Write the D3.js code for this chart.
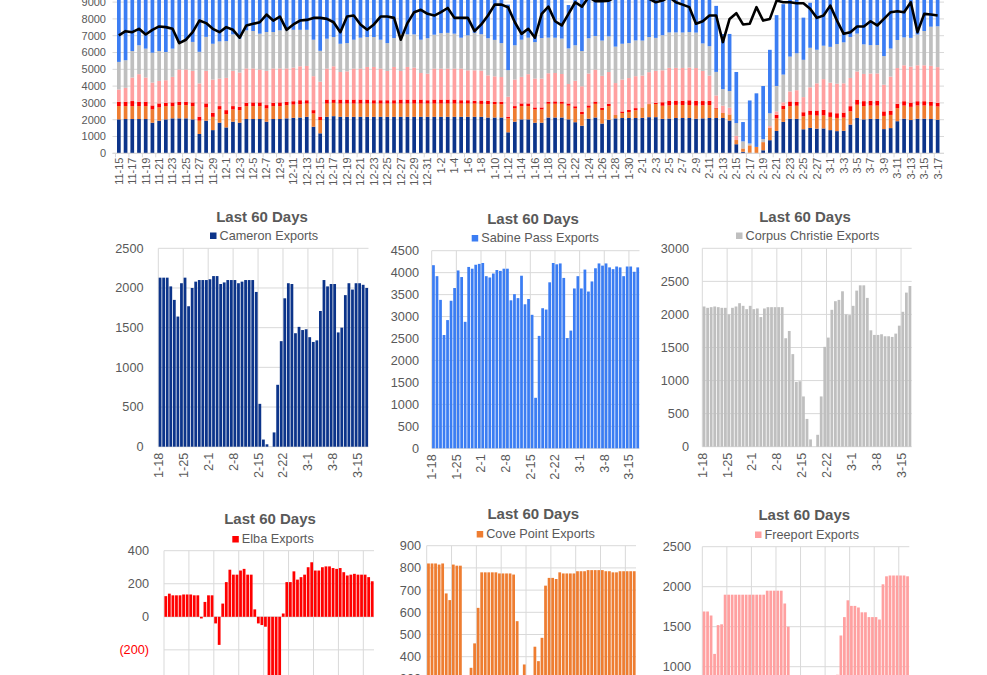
<!DOCTYPE html>
<html><head><meta charset="utf-8">
<script src="https://cdn.jsdelivr.net/npm/d3@7"></script>
<style>
body{margin:0;background:#fff;}
svg{display:block;font-family:"Liberation Sans",Arial,sans-serif;}
</style></head>
<body>
<svg id="chart" width="987" height="675"></svg>
<script>
// ---------- DATA ----------
const firstDay = new Date(2020, 10, 15);   // 11-15
const lastDayExclusive = new Date(2021, 2, 18); // through 3-17
const dates = d3.timeDay.range(firstDay, lastDayExclusive);
const fmt = d3.timeFormat("%-m-%-d");
const dateLabels = dates.map(fmt);

const seriesNames = ["Cameron Exports","Cove Point Exports","Elba Exports","Freeport Exports","Corpus Christie Exports","Sabine Pass Exports"];

const cameron = [2020,2040,2040,2040,2040,1820,1940,2020,2080,2080,
2080,2020,1150,1940,1380,1820,1540,1880,1820,2040,
2040,2040,1880,2040,2040,2080,2110,2130,2170,1580,
1190,2170,2210,2170,2170,2170,2170,2170,2170,2170,
2170,2170,2170,2170,2170,2170,2170,2170,2170,2170,
2170,2170,2170,2170,2170,2130,2130,2130,1250,1880,
2020,2020,1820,1820,
2130,2130,2130,2020,1850,1640,2060,2130,1770,2000,2080,2100,2100,2100,2110,2150,2150,2050,2070,2100,2100,2100,2060,2080,2100,2100,2100,1950,540,90,30,0,180,780,1330,1870,2060,2050,1430,1510,1470,1480,1380,1320,1340,1710,2100,2020,2050,2050,1440,1500,1910,2060,1980,2060,2060,2040,2000];

const covePoint = [790,770,770,770,770,790,790,790,730,790,
790,790,790,790,790,790,790,730,750,770,
770,770,790,770,770,790,790,790,790,790,
790,790,790,790,790,790,790,790,790,790,
790,790,790,790,790,790,790,790,790,790,
790,790,790,790,770,790,790,790,830,790,
790,790,790,790,
820,820,820,815,820,685,655,815,810,810,200,300,350,460,620,780,780,780,780,780,775,775,775,775,770,560,300,365,250,200,445,380,485,720,755,755,750,780,775,775,775,775,785,785,785,790,790,790,790,790,785,785,780,780,785,785,785,785,785];

const elba = [260,260,300,260,260,240,240,200,220,200,
200,220,240,240,240,200,240,200,200,200,
220,220,200,200,220,200,200,240,200,200,
200,240,200,240,240,240,240,240,200,200,
200,200,240,240,240,240,200,240,240,240,
240,200,200,160,200,200,140,140,100,140,
160,160,120,120,
125,140,130,130,130,135,135,135,130,130,-10,90,130,130,-40,-170,80,210,285,255,255,280,290,255,255,45,-40,-50,-60,-450,-500,-500,-420,20,210,210,275,225,240,255,300,330,280,280,300,305,305,295,290,295,270,250,255,260,255,255,255,240,215];

const freeport = [730,830,1400,1640,1440,1360,1340,1340,1520,1920,
1920,1880,1980,1940,1980,1640,1920,2100,2040,2040,
2020,1960,2040,2040,2020,1980,2000,2020,2040,2020,
2080,1840,1980,1640,1680,1840,1840,1940,1980,1880,
1740,1980,1700,1940,1900,1580,1580,1840,1840,1840,
1840,1880,1780,1820,1780,1520,1520,1480,1190,1580,
1580,1740,1720,1720,
1690,1690,1640,1160,1520,1530,1900,1900,1900,1900,1900,1900,1900,1900,1900,1900,1900,1900,1950,1950,1950,1950,1950,1790,1500,740,440,400,250,0,0,0,0,100,200,200,600,700,900,1390,1620,1830,1760,1760,1740,1680,1680,1620,1620,1620,1590,2030,2130,2140,2140,2140,2140,2140,2130];

const corpusChristi = [1640,1640,1580,1720,1720,1780,1780,1680,1680,1580,
1740,1720,1880,2020,2130,2210,2190,2170,2020,2270,
2230,2130,2310,2170,2270,2270,2250,2170,2150,2170,
1840,1780,1740,1680,1680,1720,1840,1780,1780,1720,
1660,1720,2210,1940,1980,1980,2110,2020,2110,2130,
2080,1840,2080,2230,2170,2210,2170,2020,1580,2040,
2210,2170,2170,2410,
2120,2100,2110,2120,2110,2100,2100,2000,2100,2120,2170,2130,2080,2130,2080,2090,1960,2090,2110,2110,2110,2110,2110,1640,1750,1400,980,990,760,420,110,0,180,760,1510,1650,2070,2200,2220,2350,2000,1990,2130,2360,2440,2440,2250,1760,1690,1690,1700,1670,1670,1660,1710,1830,2040,2330,2430];

const sabinePass = [3900,3950,4000,4050,4100,4000,3950,4050,4100,4150,
4100,4050,3900,4000,4050,4100,4150,4100,4050,4000,
4100,4150,4100,4050,4000,4100,4150,4200,4150,4100,
4050,4000,4100,4150,4200,4150,4100,4050,4000,4100,
4150,4200,4150,4100,4000,4050,4100,4150,4200,4150,
4100,4050,4000,4100,4150,4200,4150,4100,3900,4000,
4100,4050,4000,4100,
4170,3920,3380,2580,2920,3360,3650,4050,3900,2880,4130,4090,4180,4200,4220,3920,3890,3980,4060,4040,4090,4090,3370,3510,3420,3930,3280,3400,3040,1150,2560,3190,3160,3780,4220,4190,4210,3880,2510,2680,3640,3920,3640,4070,3570,3800,4100,4210,4160,4210,4120,4080,4140,4120,3920,4140,4140,4020,4120];

const totalLine = [7015,7270,7210,7410,7070,7350,7550,7510,7410,6560,
6760,7210,7900,7750,7410,7210,7510,7350,6880,7610,
7710,7800,8260,7900,8140,7350,7670,7900,7940,8060,
8060,8000,7800,7210,8140,8200,7670,7350,7670,8140,
8140,8060,6760,7750,8400,8540,8300,8200,8400,8650,
8060,8060,8060,7270,7670,8200,8850,8850,8690,7800,
7110,7410,6880,8300,8730,7860,7610,8300,8990,8730,
9300,9050,9050,9090,9300,9400,9400,9300,9300,9200,
8990,9090,9300,8990,8850,8700,7710,7860,8200,8200,
6620,8000,8340,7670,7710,8700,7900,8000,9090,8990,
8990,8930,8930,8600,8060,8200,8790,7900,7110,7210,
7550,7550,7860,7610,8000,8400,8460,8400,8990,7210,
8300,8260,8200];

const topYTicks = [0,1000,2000,3000,4000,5000,6000,7000,8000,9000];
const smallStart = 64; // last 60 days window starts 1-18
const smallTickLabels = ["1-18","1-25","2-1","2-8","2-15","2-22","3-1","3-8","3-15"];

// ---------- STYLE ----------
const colors = {cameron:"#0c348a", cove:"#ee7d31", elba:"#ff0000", freeport:"#ffa0a0", corpus:"#bfbfbf", sabine:"#3b7df3"};
const textCol = "#595959", gridCol = "#d9d9d9";

const svg = d3.select("#chart");

// ---------- TOP STACKED CHART ----------
(function(){
  const L = 115.5, R = 941, Y0 = 153.3;
  const x = d3.scaleBand().domain(d3.range(dates.length)).range([L, R]).paddingInner(0.45).paddingOuter(0.225);
  const y = d3.scaleLinear().domain([0, 10000]).range([Y0, Y0 - 168]);
  const g = svg.append("g");

  svg.append("defs").append("clipPath").attr("id","topclip")
    .append("rect").attr("x",0).attr("y",-50).attr("width",987).attr("height",Y0+50);

  g.selectAll("line.grid").data(topYTicks).join("line")
    .attr("x1", L-3).attr("x2", R+3).attr("y1", d=>y(d)).attr("y2", d=>y(d))
    .attr("stroke", gridCol).attr("stroke-width", 1);

  g.selectAll("text.yl").data(topYTicks).join("text")
    .attr("x", 106).attr("y", d=>y(d)).attr("dy","0.35em").attr("text-anchor","end")
    .attr("font-size", 11).attr("fill", textCol).text(d=>d);

  const rows = dates.map((d,i)=>({i, cameron:cameron[i], cove:covePoint[i], elba:elba[i], freeport:freeport[i], corpus:corpusChristi[i], sabine:sabinePass[i]}));
  const keys = ["cameron","cove","elba","freeport","corpus","sabine"];
  const stacked = d3.stack().keys(keys).offset(d3.stackOffsetDiverging)(rows);
  const bars = g.append("g").attr("clip-path","url(#topclip)");
  stacked.forEach(layer=>{
    bars.append("g").attr("fill", colors[layer.key]).selectAll("rect").data(layer).join("rect")
      .attr("x", (d,i)=>x(i)).attr("width", x.bandwidth())
      .attr("y", d=>y(Math.max(d[0],d[1]))).attr("height", d=>Math.abs(y(d[0])-y(d[1])));
  });

  // axis line + ticks
  g.append("line").attr("x1",L-3).attr("x2",R+3).attr("y1",Y0).attr("y2",Y0).attr("stroke",gridCol);
  const tickIdx = d3.range(0, dates.length+1, 2);
  g.selectAll("line.tk").data(tickIdx).join("line")
    .attr("x1", i=>L + i*x.step()).attr("x2", i=>L + i*x.step())
    .attr("y1", Y0).attr("y2", Y0+4).attr("stroke", gridCol);

  const labIdx = d3.range(0, dates.length, 2);
  g.selectAll("text.xl").data(labIdx).join("text")
    .attr("transform", i=>`translate(${x(i)+x.bandwidth()/2},157.5) rotate(-90)`)
    .attr("text-anchor","end").attr("dy","0.35em").attr("font-size",11).attr("fill",textCol)
    .text(i=>dateLabels[i]);

  const line = d3.line().x((d,i)=>x(i)+x.bandwidth()/2).y(d=>y(d));
  g.append("path").datum(totalLine).attr("d", line).attr("fill","none")
    .attr("stroke","#000").attr("stroke-width",2.6).attr("stroke-linejoin","round");
})();

// ---------- SMALL CHARTS ----------
function smallChart(o){
  const vals = o.values.slice(smallStart);
  const n = vals.length;
  const x = d3.scaleBand().domain(d3.range(n)).range([o.left, o.right]).paddingInner(0.22).paddingOuter(0.11);
  const y = d3.scaleLinear().domain(o.domain).range([o.bottom, o.top]);
  const g = svg.append("g");
  const step = x.step();
  const ticks = d3.range(o.domain[0], o.domain[1] + 1, o.tickStep);

  g.selectAll("line.h").data(ticks).join("line")
    .attr("x1", o.left).attr("x2", o.right).attr("y1", d=>y(d)).attr("y2", d=>y(d))
    .attr("stroke", gridCol);
  const vIdx = d3.range(0, n, 7);
  g.selectAll("line.v").data(vIdx).join("line")
    .attr("x1", i=>o.left + i*step).attr("x2", i=>o.left + i*step)
    .attr("y1", y(o.domain[0])).attr("y2", o.top).attr("stroke", gridCol);

  g.selectAll("text.yl").data(ticks).join("text")
    .attr("x", o.yLabelX).attr("y", d=>y(d)).attr("dy","0.35em").attr("text-anchor","end")
    .attr("font-size",12.7).attr("fill", d=> d<0 ? "#ff0000" : textCol)
    .text(d=> d<0 ? `(${-d})` : d);

  g.append("g").attr("fill", o.color).selectAll("rect").data(vals).join("rect")
    .attr("x",(d,i)=>x(i)).attr("width", x.bandwidth())
    .attr("y", d=>y(Math.max(0,d))).attr("height", d=>Math.abs(y(d)-y(0)));

  const labBase = y(o.domain[0]) + 6;
  g.selectAll("text.xl").data(vIdx).join("text")
    .attr("transform", (i,k)=>`translate(${o.left + i*step},${labBase}) rotate(-90)`)
    .attr("text-anchor","end").attr("dy","0.35em").attr("font-size",12.7).attr("fill",textCol)
    .text((i,k)=>smallTickLabels[k]);

  g.append("text").attr("x", o.titleX).attr("y", o.titleY).attr("text-anchor","middle")
    .attr("font-size",15).attr("font-weight","bold").attr("fill",textCol).text("Last 60 Days");
  g.append("rect").attr("x", o.legX).attr("y", o.legY-7).attr("width",6.5).attr("height",6.5).attr("fill",o.color);
  g.append("text").attr("x", o.legX+9.5).attr("y", o.legY).attr("font-size",12.7).attr("fill",textCol).text(o.name);
}

smallChart({values:cameron, name:seriesNames[0], color:colors.cameron, left:158.3, right:368.5, top:248.3, bottom:446.7,
  domain:[0,2500], tickStep:500, yLabelX:143.5, titleX:262, titleY:221.5, legX:210, legY:239.5});
smallChart({values:sabinePass, name:seriesNames[5], color:colors.sabine, left:431.7, right:639.5, top:250.7, bottom:448.3,
  domain:[0,4500], tickStep:500, yLabelX:419, titleX:533, titleY:223.5, legX:471.7, legY:242});
smallChart({values:corpusChristi, name:seriesNames[4], color:colors.corpus, left:702.3, right:911.7, top:248.3, bottom:446.7,
  domain:[0,3000], tickStep:500, yLabelX:689, titleX:805, titleY:221.5, legX:736, legY:239.5});
smallChart({values:elba, name:seriesNames[2], color:colors.elba, left:164, right:374, top:550.7, bottom:749,
  domain:[-800,400], tickStep:200, yLabelX:149, titleX:270, titleY:524, legX:232.3, legY:543});
smallChart({values:covePoint, name:seriesNames[1], color:colors.cove, left:426.7, right:636, top:545.7, bottom:745.5,
  domain:[0,900], tickStep:100, yLabelX:421, titleX:533.3, titleY:519, legX:476.7, legY:538});
smallChart({values:freeport, name:seriesNames[3], color:colors.freeport, left:702.3, right:909.3, top:546.7, bottom:746.7,
  domain:[0,2500], tickStep:500, yLabelX:691, titleX:804.3, titleY:520, legX:755, legY:538.5});
</script>
</body></html>
